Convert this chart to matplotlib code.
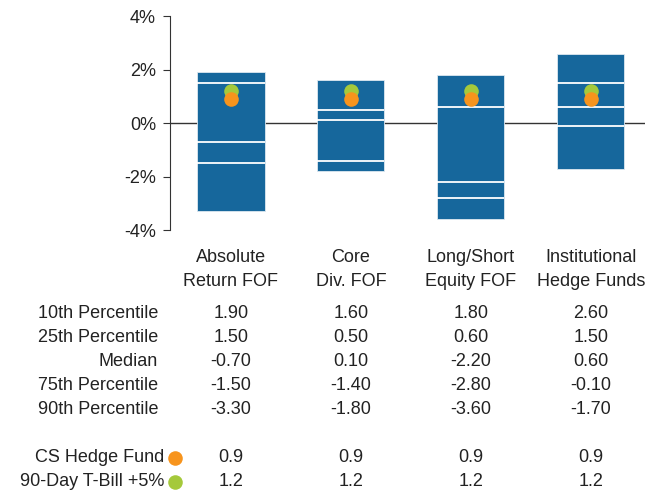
import matplotlib
matplotlib.use('Agg')
from matplotlib import pyplot as plt
from matplotlib.transforms import blended_transform_factory

plt.rcParams['font.family'] = ['Liberation Sans', 'DejaVu Sans']

funds = ['Absolute\nReturn FOF', 'Core\nDiv. FOF', 'Long/Short\nEquity FOF', 'Institutional\nHedge Funds']
p10 = [1.90, 1.60, 1.80, 2.60]
p25 = [1.50, 0.50, 0.60, 1.50]
median = [-0.70, 0.10, -2.20, 0.60]
p75 = [-1.50, -1.40, -2.80, -0.10]
p90 = [-3.30, -1.80, -3.60, -1.70]
cs_hedge = [0.9, 0.9, 0.9, 0.9]
tbill = [1.2, 1.2, 1.2, 1.2]

row_names = ['10th Percentile', '25th Percentile', 'Median', '75th Percentile', '90th Percentile']
rows = [p10, p25, median, p75, p90]

blue = '#16679c'
orange = '#f7941d'
green = '#a5c93b'
txt = '#222222'

fig = plt.figure(figsize=(6.66, 4.92), dpi=100)
ax = fig.add_axes([0.255, 0.5325, 0.713, 0.4345])

x = list(range(len(funds)))
w = 0.56
ax.axhline(0, color='#333333', lw=1, zorder=1)
ax.bar(x, [a - b for a, b in zip(p10, p90)], bottom=p90, width=w, color=blue,
       edgecolor='#dde8f0', lw=0.6, zorder=2)
for vals in [p25, median, p75]:
    ax.hlines(vals, [i - w / 2 for i in x], [i + w / 2 for i in x], color='white', lw=1.3, zorder=3)

ax.scatter(x, tbill, s=110, color=green, zorder=4, lw=0)
ax.scatter(x, cs_hedge, s=110, color=orange, zorder=5, lw=0)

ax.set_xlim(-0.51, 3.45)
ax.set_ylim(-4, 4)
ax.set_yticks([-4, -2, 0, 2, 4])
ax.set_yticklabels(['-4%', '-2%', '0%', '2%', '4%'], fontsize=13, color=txt)
ax.set_xticks([])
for s in ['top', 'right', 'bottom']:
    ax.spines[s].set_visible(False)
ax.spines['left'].set_color('#333333')
ax.tick_params(axis='y', length=5, color='#333333', pad=5)

# table below the chart
tr = blended_transform_factory(ax.transData, fig.transFigure)
fs = 13
for i, name in enumerate(funds):
    ax.text(i, 1 - 269.5 / 492, name, transform=tr, ha='center', va='center', fontsize=fs,
            linespacing=1.5, color=txt)

row_y = [313, 337, 361, 385, 409]
for name, vals, yp in zip(row_names, rows, row_y):
    fig.text(158 / 666, 1 - yp / 492, name, ha='right', va='center', fontsize=fs, color=txt)
    for i, v in enumerate(vals):
        ax.text(i, 1 - yp / 492, '%.2f' % v, transform=tr, ha='center', va='center', fontsize=fs,
                color=txt)

for name, vals, yp, c in [('CS Hedge Fund', cs_hedge, 458, orange), ('90-Day T-Bill +5%', tbill, 482, green)]:
    fig.text(164 / 666, 1 - yp / 492, name, ha='right', va='center', fontsize=fs, color=txt)
    ax.scatter([175 / 666], [1 - yp / 492], s=110, color=c, lw=0, transform=fig.transFigure, clip_on=False)
    for i, v in enumerate(vals):
        ax.text(i, 1 - yp / 492, '%.1f' % v, transform=tr, ha='center', va='center', fontsize=fs,
                color=txt)

plt.savefig('out.png', dpi=100)
